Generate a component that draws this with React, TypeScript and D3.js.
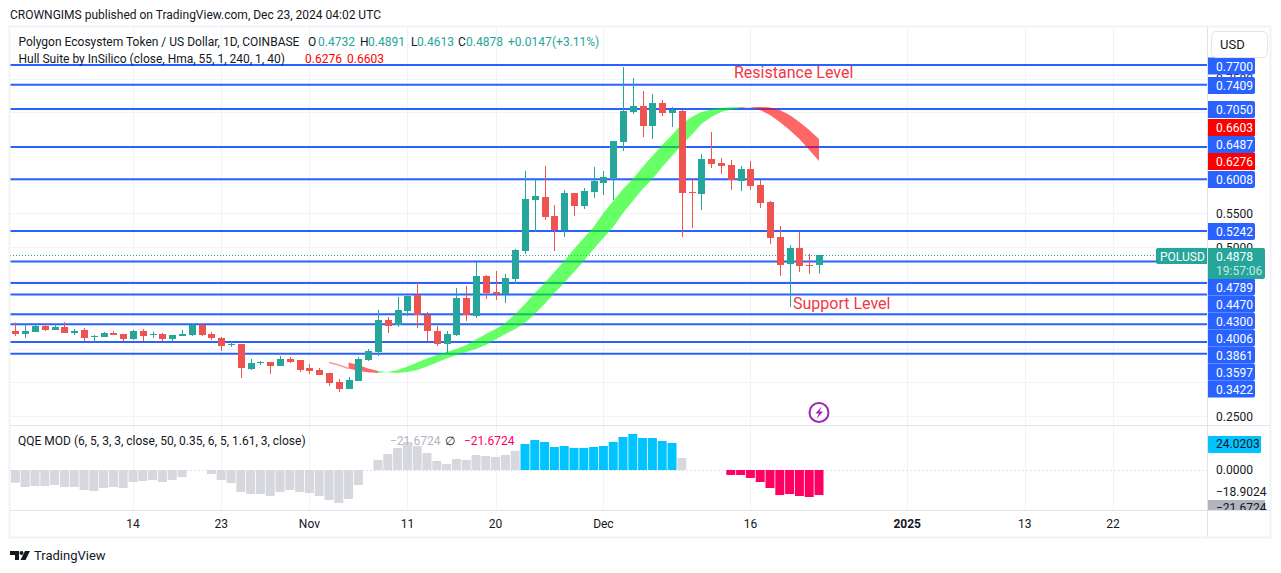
import * as d3 from "d3";

// daily candles, 2 Oct to 23 Dec 2024
const opens = [.3760,.3715,.3745,.3834,.3775,.3819,.3730,.3775,.3675,.3671,.3730,.3715,.3641,.3760,.3711,.3715,.3641,.3686,.3700,.3849,.3715,.3656,.3557,.3567,.3197,.3281,.3300,.3241,.3345,.3330,.3212,.3182,.3138,.3004,.2900,.3019,.3330,.3449,.3922,.3849,.4056,.4293,.3997,.3760,.3567,.3700,.4249,.3982,.4575,.4338,.4308,.4530,.4944,.5700,.5744,.5463,.5256,.5804,.5611,.5818,.5952,.6026,.6559,.7004,.7093,.6796,.7137,.6989,.7019,.5818,.5789,.6307,.6248,.6219,.5981,.6159,.5922,.5670,.5152,.4752,.4989,.4740,.4732];
const highs = [.3883,.3863,.3859,.3874,.3859,.3893,.3789,.3804,.3700,.3745,.3760,.3715,.3775,.3789,.3749,.3730,.3700,.3775,.3863,.3878,.3745,.3671,.3597,.3567,.3345,.3315,.3300,.3389,.3375,.3330,.3271,.3212,.3138,.3049,.3078,.3375,.3493,.4071,.3967,.4263,.4278,.4471,.4041,.3834,.3760,.4397,.4426,.4782,.4589,.4649,.4604,.4975,.6130,.6026,.6204,.5626,.5848,.5804,.5878,.6189,.6130,.6574,.7670,.7507,.7315,.7270,.7181,.7078,.7033,.6026,.6381,.6707,.6322,.6293,.6204,.6278,.5996,.5685,.5315,.5033,.5226,.4900,.4891];
const lows = [.3686,.3656,.3745,.3760,.3775,.3730,.3700,.3612,.3597,.3671,.3700,.3612,.3626,.3612,.3656,.3612,.3612,.3686,.3686,.3686,.3626,.3463,.3523,.3063,.3182,.3256,.3123,.3241,.3286,.3152,.3123,.3108,.2945,.2856,.2900,.3019,.3315,.3389,.3730,.3819,.3982,.3804,.3612,.3538,.3419,.3686,.3908,.3952,.4234,.4219,.4175,.4456,.4900,.5226,.5404,.4944,.5152,.5463,.5567,.5730,.5774,.5700,.6426,.6974,.6633,.6604,.6944,.6781,.5152,.5285,.5552,.6174,.6085,.5848,.5833,.5848,.5581,.5048,.4575,.4115,.4633,.4604,.4613];
const closes = [.3715,.3760,.3834,.3775,.3819,.3730,.3760,.3656,.3686,.3730,.3700,.3641,.3760,.3686,.3720,.3641,.3700,.3715,.3849,.3700,.3656,.3538,.3567,.3212,.3286,.3300,.3241,.3345,.3300,.3182,.3167,.3108,.2989,.2900,.3034,.3345,.3463,.3922,.3834,.4071,.4278,.3997,.3760,.3567,.3715,.4249,.3997,.4575,.4318,.4308,.4545,.4960,.5715,.5759,.5448,.5256,.5804,.5611,.5833,.5981,.6041,.6574,.7019,.7093,.6796,.7137,.6989,.7033,.5804,.5804,.6307,.6233,.6204,.5996,.6159,.5907,.5656,.5137,.4737,.4989,.4722,.4727,.4878];

// hull suite line starts at candle 32, band is hull vs hull two bars ago
const hullStart = 32;
const hull = [.3293,.3256,.3204,.3167,.3147,.3137,.3152,.3182,.3233,.3293,.3352,.3404,.3448,.3493,.3552,.3633,.3715,.3789,.3878,.4011,.4159,.4322,.4470,.4633,.4796,.4974,.5137,.5300,.5507,.5685,.5863,.6011,.6189,.6352,.6515,.6663,.6826,.6930,.7004,.7041,.7063,.7075,.7078,.7070,.7033,.6959,.6856,.6737,.6603,.6441,.6276];

const levels = [.77,.7409,.705,.6487,.6008,.5242,.4789,.447,.43,.4006,.3861,.3597,.3422];
const levelLabels = ["0.7700","0.7409","0.7050","0.6487","0.6008","0.5242","0.4789","0.4470","0.4300","0.4006","0.3861","0.3597","0.3422"];

// QQE histogram, null = no bar
const qqe = [-11,-14.7,-13.9,-13.9,-13,-14.7,-14.7,-17.3,-18.2,-15.6,-14.7,-15.6,-10.4,-9.5,-8.7,-10.4,-8.7,-6.1,null,null,-3.5,-8.7,-11.3,-19,-20.8,-20.8,-22.5,-19,-17.3,-19,-19.9,-22.5,-26,-28.6,-25.1,-13,null,8.7,13.9,19.1,24.3,20.8,14.7,7.8,5.2,9.5,8.7,13,12.1,11.3,13,16.5,22.5,26,24.3,19.9,20.8,19.1,19.1,19.9,20.8,24.3,28.6,31.2,27.7,27.7,25.1,23.4,10.4,null,null,null,null,-4.3,-4.3,-6.9,-10.4,-15.6,-21.7,-20.8,-22.5,-23.4,-21.67];
const qqeBlueFrom = 52;
const qqeBlueTo = 67;

const timeTicks = ["14","23","Nov","11","20","Dec","16","2025","13","22"];
const timeTickDays = [12,21,30,40,49,60,75,91,103,112];
const priceGrid = [.25,.3,.35,.4,.45,.5,.55,.6,.65,.7,.75];
const priceTicks = [.75,.55,.5,.25];

const UP = "#26a69a";
const DOWN = "#ef5350";
const BLUE = "#2962ff";
const GRID = "#f0f3fa";
const BORDER = "#e0e3eb";
const INK = "#131722";
const FONT = "Roboto, 'Noto Sans', sans-serif";

const left = 10, right = 1207;

const x = d3.scaleLinear().domain([0, 82]).range([15.4, 819]);
const y = d3.scaleLinear().domain([.25, .77]).range([416, 65]);
const yQqe = d3.scaleLinear().domain([-20, 20]).range([493.1, 446.9]);

const crisp = (v: number) => Math.round(v) + 0.5;

function HullBand({ from, to, color }: { from: number; to: number; color: string }) {
  const idx = d3.range(from, to + 1);
  const area = d3.area<number>()
    .x((i) => x(i))
    .y0((i) => y(hull[i - hullStart]))
    .y1((i) => y(hull[i - 2 - hullStart]));
  return <path d={area(idx) || ""} fill={color} fillOpacity={0.6} />;
}

function Candles() {
  return (
    <g>
      {opens.map((o, i) => {
        const c = closes[i];
        const color = c >= o ? UP : DOWN;
        const cx = Math.round(x(i));
        const top = Math.round(y(Math.max(o, c)));
        const bottom = Math.round(y(Math.min(o, c)));
        return (
          <g key={i} fill={color}>
            <rect x={cx} y={y(highs[i])} width={1} height={y(lows[i]) - y(highs[i])} />
            <rect x={cx - 3} y={top} width={7} height={Math.max(1, bottom - top)} />
          </g>
        );
      })}
    </g>
  );
}

function PriceAxis() {
  // labels are pushed apart on the axis so they do not sit on their own lines
  const labelY = [66, 85.5, 109.5, 144.5, 179.5, 231.5, 287, 304, 321, 338, 355, 372, 389];
  return (
    <g fontFamily={FONT} fontSize={12} textAnchor="start">
      {priceTicks.map((t) => (
        <text key={t} x={1216} y={y(t) + 4.5} fill={INK}>{t.toFixed(4)}</text>
      ))}
      {levelLabels.map((t, i) => (
        <g key={t}>
          <path d={`M1208 ${labelY[i] - 8.5}h45a2 2 0 0 1 2 2v13a2 2 0 0 1 -2 2h-45z`} fill={BLUE} />
          <text x={1216} y={labelY[i] + 4.5} fill="#fff">{t}</text>
        </g>
      ))}
      {[["0.6603", 127.5], ["0.6276", 161.5]].map(([t, cy]) => (
        <g key={t as string}>
          <path d={`M1208 ${(cy as number) - 8.5}h47v17h-47z`} fill="#ff0000" />
          <text x={1216} y={(cy as number) + 4.5} fill="#fff">{t}</text>
        </g>
      ))}
      <path d="M1208 248h55a2 2 0 0 1 2 2v27a2 2 0 0 1 -2 2h-55z" fill={UP} />
      <text x={1216} y={261} fill="#fff">0.4878</text>
      <text x={1216} y={275} fill="#fff" fillOpacity={0.75}>19:57:06</text>
      <path d="M1207 248h-49a2 2 0 0 0 -2 2v12a2 2 0 0 0 2 2h49z" fill={UP} />
      <text x={1160} y={261} fill="#fff">POLUSD</text>
    </g>
  );
}

function QqePane() {
  const bars = d3.range(qqe.length);
  return (
    <g>
      <line x1={left} x2={right} y1={470.5} y2={470.5} stroke={BORDER} strokeDasharray="2 2" />
      {bars.map((i) => {
        const v = qqe[i];
        if (v == null) return null;
        let fill = "#d6d8dd";
        if (i >= qqeBlueFrom && i <= qqeBlueTo) fill = "#00c3ff";
        if (i > qqeBlueTo && v < 0) fill = "#ff0062";
        const top = yQqe(Math.max(v, 0));
        const bottom = yQqe(Math.min(v, 0));
        return <rect key={i} x={x(i) - 4.5} y={top} width={9} height={bottom - top} fill={fill} />;
      })}
      <g fontFamily={FONT} fontSize={12}>
        <rect x={1208} y={436} width={53} height={17} rx={1} fill="#00c3ff" />
        <text x={1216} y={448} fill={INK}>24.0203</text>
        <text x={1216} y={474} fill={INK}>0.0000</text>
        <text x={1216} y={496} fill={INK}>−18.9024</text>
        <path d="M1208 500h57v10h-57z" fill="#b2b5be" />
        <g clipPath="url(#qqeClip)">
          <text x={1216} y={512} fill={INK}>−21.6724</text>
        </g>
      </g>
    </g>
  );
}

export default function App() {
  return (
    <svg width={1281} height={573} style={{ position: "absolute", left: 0, top: 0, background: "#fff" }}>
      <defs>
        <clipPath id="qqeClip"><rect x={1208} y={426} width={60} height={84} /></clipPath>
      </defs>

      {/* grid */}
      {priceGrid.map((p) => (
        <line key={p} x1={left} x2={right} y1={crisp(y(p))} y2={crisp(y(p))} stroke={GRID} />
      ))}
      {timeTickDays.map((d) => (
        <line key={d} x1={crisp(x(d))} x2={crisp(x(d))} y1={27} y2={510} stroke={GRID} />
      ))}

      {/* support and resistance levels */}
      {levels.map((l) => (
        <line key={l} x1={left} x2={right} y1={y(l)} y2={y(l)} stroke={BLUE} strokeWidth={2} />
      ))}
      <line x1={left} x2={1156} y1={crisp(y(.4878))} y2={crisp(y(.4878))} stroke={UP} strokeDasharray="1 2" />

      {/* hull suite */}
      <path
        d={d3.line<number>().x((i) => x(i)).y((i) => y(hull[i - hullStart]))([32, 33, 34]) || ""}
        fill="none" stroke="#ff0000" strokeOpacity={0.4} strokeWidth={1.5}
      />
      <HullBand from={34} to={37} color="#ff0000" />
      <HullBand from={37} to={74} color="#00ff00" />
      <HullBand from={74} to={82} color="#ff0000" />

      <Candles />

      <QqePane />

      {/* frame */}
      <g fill="none" stroke={BORDER}>
        <rect x={9.5} y={26.5} width={1261} height={511} stroke="#f0f3fa" strokeWidth={2} />
        <line x1={10} x2={1270} y1={425.5} y2={425.5} />
        <line x1={10} x2={1270} y1={510.5} y2={510.5} />
        <line x1={1207.5} x2={1207.5} y1={27} y2={537} />
      </g>

      <PriceAxis />

      <rect x={1211.5} y={31.5} width={56} height={26} rx={5} fill="#fff" stroke={BORDER} />
      <text x={1220} y={49} fontFamily={FONT} fontSize={13} fill={INK}>USD</text>

      {/* time axis */}
      <g fontFamily={FONT} fontSize={12} fill={INK} textAnchor="middle">
        {timeTicks.map((t, i) => (
          <text key={t + i} x={x(timeTickDays[i])} y={528} fontWeight={t === "2025" ? 700 : 400}>{t}</text>
        ))}
      </g>

      {/* legends */}
      <g fontFamily={FONT} fontSize={12} fill={INK}>
        <text x={10} y={19}>CROWNGIMS published on TradingView.com, Dec 23, 2024 04:02 UTC</text>
        <text x={18.5} y={46}>Polygon Ecosystem Token / US Dollar, 1D, COINBASE</text>
        <text x={308} y={46}>O</text>
        <text x={318} y={46} fill={UP}>0.4732</text>
        <text x={360} y={46}>H</text>
        <text x={368} y={46} fill={UP}>0.4891</text>
        <text x={411} y={46}>L</text>
        <text x={417} y={46} fill={UP}>0.4613</text>
        <text x={458} y={46}>C</text>
        <text x={466} y={46} fill={UP}>0.4878</text>
        <text x={508} y={46} fill={UP}>+0.0147</text>
        <text x={552} y={46} fill={UP}>(+3.11%)</text>
        <text x={18.5} y={63}>Hull Suite by InSilico (close, Hma, 55, 1, 240, 1, 40)</text>
        <text x={305} y={63} fill="#ff0000">0.6276</text>
        <text x={347} y={63} fill="#ff0000">0.6603</text>
        <text x={18} y={445}>QQE MOD (6, 5, 3, 3, close, 50, 0.35, 6, 5, 1.61, 3, close)</text>
        <text x={390} y={445} fill="#b2b5be">−21.6724</text>
        <text x={445} y={445}>∅</text>
        <text x={464} y={445} fill="#ff0062">−21.6724</text>
      </g>

      {/* annotations */}
      <g fontFamily={FONT} fontSize={16} fill="#f23645">
        <text x={734} y={78}>Resistance Level</text>
        <text x={793} y={309}>Support Level</text>
      </g>

      {/* alert icon */}
      <circle cx={819} cy={412.5} r={9.5} fill="#fff" stroke="#9c27b0" strokeWidth={2} />
      <path d="M821.5 406.5l-6 7h3.5l-2.5 5.5 6.5-7.5h-3.5z" fill="#9c27b0" />

      {/* TradingView mark */}
      <path d="M10 551h9v9h-4v-5h-5zM25 551h5l-4.5 9h-5z" fill={INK} />
      <circle cx={21.5} cy={553} r={2} fill={INK} />
      <text x={34} y={560} fontFamily={FONT} fontSize={13} fill={INK}>TradingView</text>
    </svg>
  );
}
